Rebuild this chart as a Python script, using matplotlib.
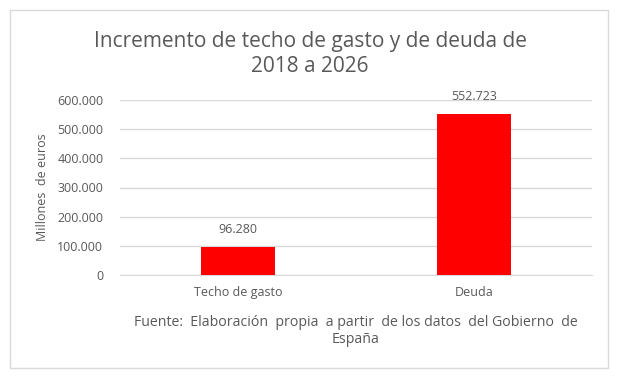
import matplotlib
matplotlib.use("Agg")
import matplotlib.pyplot as plt
from matplotlib.patches import Rectangle
from matplotlib.ticker import FuncFormatter

categories = ["Techo de gasto", "Deuda"]
values = [96280, 552723]
value_labels = ["96.280", "552.723"]
yticks = [0, 100000, 200000, 300000, 400000, 500000, 600000]

def fmt(v, pos=None):
    return f"{int(v):,}".replace(",", ".")

grey = "#595959"
plt.rcParams['font.family'] = ['Open Sans', 'DejaVu Sans']

fig = plt.figure(figsize=(6.19, 3.79), dpi=100)
fig.patch.set_facecolor("white")
fig.add_artist(Rectangle((10/619, 1-368/379), 598/619, 358/379, transform=fig.transFigure,
                         fill=False, edgecolor="#d9d9d9", linewidth=1))

ax = fig.add_axes([120/619, 1-275/379, 472/619, 175/379])
x = list(range(len(categories)))
ax.bar(x, values, width=0.31, color="#ff0000", zorder=3)
ax.set_xlim(-0.5, 1.5)
ax.set_ylim(0, 600000)
ax.set_yticks(yticks)
ax.yaxis.set_major_formatter(FuncFormatter(fmt))
ax.set_xticks(x)
ax.set_xticklabels(categories)
ax.grid(axis="y", color="#d9d9d9", linewidth=1, zorder=0)
for s in ["top", "right", "left"]:
    ax.spines[s].set_visible(False)
ax.spines["bottom"].set_color("#d9d9d9")
ax.tick_params(axis="both", length=0, colors=grey, labelsize=9)
ax.tick_params(axis="y", pad=12)
ax.tick_params(axis="x", pad=8)
ax.set_ylabel("Millones  de euros", color=grey, fontsize=9, labelpad=6)
for xi, v, lab in zip(x, values, value_labels):
    ax.annotate(lab, (xi, v), xytext=(0, 8), textcoords="offset points",
                ha="center", va="bottom", fontsize=9, color=grey)

fig.text(310/619, 1-41/379, "Incremento de techo de gasto y de deuda de",
         ha="center", va="center", fontsize=15, color=grey)
fig.text(310/619, 1-66/379, "2018 a 2026",
         ha="center", va="center", fontsize=15, color=grey)
fig.text(356/619, 1-331/379, "Fuente:  Elaboración  propia  a partir  de los datos  del Gobierno  de\nEspaña",
         ha="center", va="center", fontsize=10.2, color=grey, linespacing=1.25)

fig.savefig("out.png", dpi=100)
